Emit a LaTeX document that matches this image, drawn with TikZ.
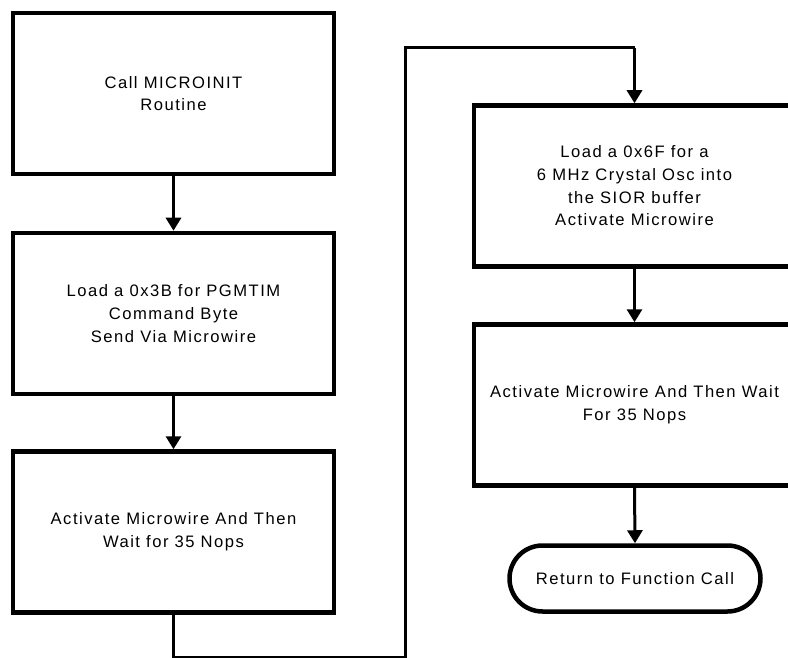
\documentclass[tikz,border=0pt]{standalone}
\usepackage{fontspec}
\setmainfont[LetterSpace=9]{Liberation Sans}
\usetikzlibrary{shapes.misc,arrows.meta}
\begin{document}
\begin{tikzpicture}[x=1pt,y=-1pt,
  procbox/.style={draw,line width=4.5pt,minimum width=321pt,minimum height=161pt,
    inner sep=0pt,align=center,font=\fontsize{16.6}{22.7}\selectfont},
  termbox/.style={draw,line width=4.5pt,rounded rectangle,minimum width=251pt,minimum height=66pt,
    inner sep=0pt,align=center,font=\fontsize{16.6}{22.7}\selectfont},
  flow/.style={line width=3pt,-{Triangle[length=13pt,width=15pt]}},
  wire/.style={line width=3pt}]
\useasboundingbox (0,0) rectangle (788,658);
\clip (0,0) rectangle (788,658);
\node[procbox] (b1) at (173.5,93.5) {Call MICROINIT\\Routine};
\node[procbox] (b2) at (173.5,313.5) {Load a 0x3B for PGMTIM\\Command Byte\\Send Via Microwire};
\node[procbox] (b3) at (173.5,532) {Activate Microwire And Then\\Wait for 35 Nops};
\node[procbox] (b4) at (634.5,186) {Load a 0x6F for a\\6 MHz Crystal Osc into\\the SIOR buffer\\Activate Microwire};
\node[procbox] (b5) at (634.5,405) {Activate Microwire And Then Wait\\For 35 Nops};
\node[termbox] (t) at (635,578.5) {Return to Function Call};
\coordinate (c1) at (173.5,657.8);
\coordinate (c2) at (405,657.8);
\coordinate (c3) at (405,48);
\coordinate (c4) at (634.5,48);
\draw[flow] (b1.south) -- (b2.north);
\draw[flow] (b2.south) -- (b3.north);
\draw[flow] (b4.south) -- (b5.north);
\draw[flow] (b5.south) -- (t.north);
\draw[wire] (b3.south) -- (c1) -- (c2) -- (c3) -- (c4);
\draw[flow] (c4) -- (b4.north);
\end{tikzpicture}
\end{document}
